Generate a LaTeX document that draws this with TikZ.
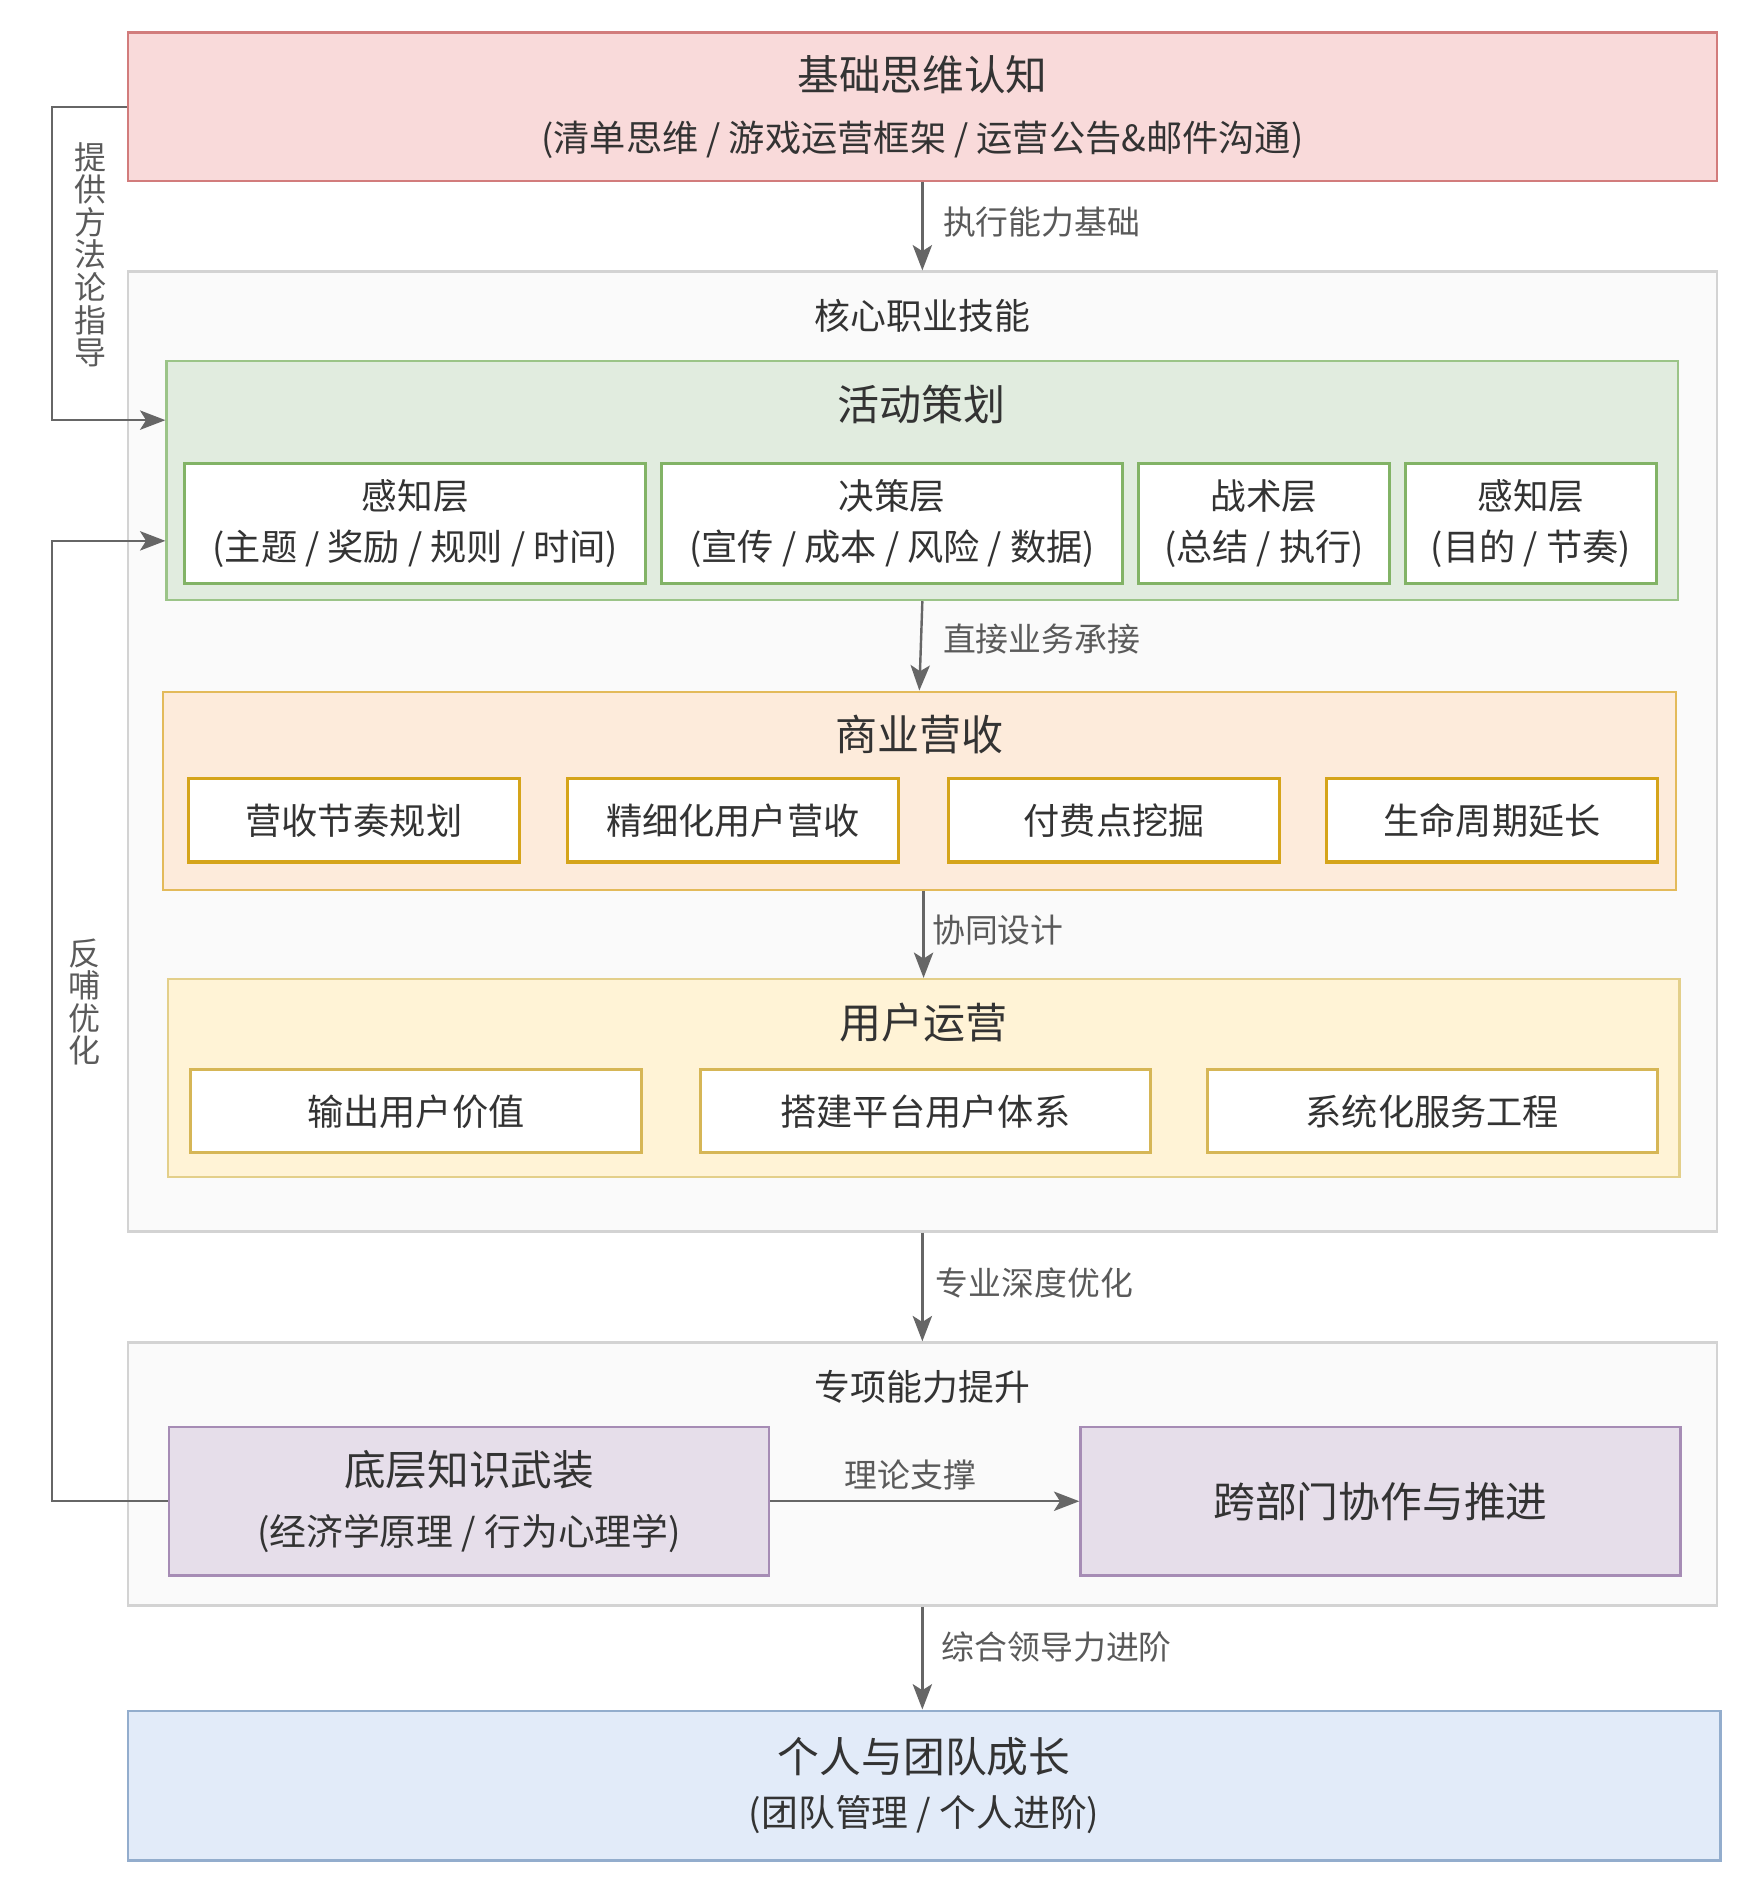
\documentclass[tikz,border=0pt]{standalone}
\usepackage{fontspec}
\setmainfont{Noto Sans CJK SC}
\usetikzlibrary{arrows.meta,calc}
\definecolor{txt}{HTML}{333333}
\definecolor{lbltxt}{HTML}{5A5A5A}
\definecolor{arr}{HTML}{666666}
\definecolor{pinkfill}{HTML}{F9DADA}
\definecolor{pinkdraw}{HTML}{D27C7C}
\definecolor{corefill}{HTML}{FAFAFA}
\definecolor{coredraw}{HTML}{D3D3D3}
\definecolor{greenfill}{HTML}{E1ECDF}
\definecolor{greendraw}{HTML}{9BC488}
\definecolor{subgreen}{HTML}{82B366}
\definecolor{orangefill}{HTML}{FDEBDB}
\definecolor{orangedraw}{HTML}{E3BA5A}
\definecolor{suborange}{HTML}{D5A41A}
\definecolor{yellowfill}{HTML}{FFF3D6}
\definecolor{yellowdraw}{HTML}{E3CF8A}
\definecolor{subyellow}{HTML}{D6B656}
\definecolor{purplefill}{HTML}{E6DEEA}
\definecolor{purpledraw}{HTML}{A68CB5}
\definecolor{bluefill}{HTML}{E2EBF9}
\definecolor{bluedraw}{HTML}{93ADCD}
\newcommand{\fsz}[2]{\fontsize{#1}{#2}\selectfont}
\tikzset{
  box/.style={draw, line width=2pt, inner sep=0pt, align=center, text=txt},
  pinkbox/.style={box, fill=pinkfill, draw=pinkdraw},
  corebox/.style={box, fill=corefill, draw=coredraw},
  greenbox/.style={box, fill=greenfill, draw=greendraw},
  orangebox/.style={box, fill=orangefill, draw=orangedraw},
  yellowbox/.style={box, fill=yellowfill, draw=yellowdraw},
  purplebox/.style={box, fill=purplefill, draw=purpledraw},
  bluebox/.style={box, fill=bluefill, draw=bluedraw},
  subg/.style={box, fill=white, draw=subgreen, line width=2.5pt, minimum width=#1, minimum height=99pt, font=\fsz{30}{42}},
  subo/.style={box, fill=white, draw=suborange, line width=2.5pt, minimum width=274pt, minimum height=69pt, font=\fsz{30}{34}},
  suby/.style={box, fill=white, draw=subyellow, line width=2.5pt, minimum width=373pt, minimum height=69pt, font=\fsz{30}{34}},
  title/.style={text=txt, inner sep=0pt, font=\fsz{34.8}{40}},
  subtitle/.style={text=txt, inner sep=0pt, font=\fsz{29.7}{34}},
  lbl/.style={text=lbltxt, inner sep=0pt, font=\fsz{27.2}{30}},
  vlbl/.style={text=lbltxt, inner sep=0pt, align=center, font=\fsz{26.5}{27}},
  conn/.style={draw=arr, line width=2pt, -{Stealth[length=21pt,width=16pt,inset=5pt]}}
}
\begin{document}
\begin{tikzpicture}[x=1pt,y=-1pt]
\useasboundingbox[fill=white] (0,0) rectangle (1451,1568);

% top box
\node[pinkbox, minimum width=1316pt, minimum height=123pt, font=\fsz{30}{51}] (top) at (764,88.5)
  {{\fsz{34.5}{51}基础思维认知}\\(清单思维 / 游戏运营框架 / 运营公告\&邮件沟通)};

% core container
\node[corebox, minimum width=1316pt, minimum height=795pt] (core) at (764,622.5) {};
\node[subtitle] (coret) at (764,262) {核心职业技能};

% activity planning
\node[greenbox, minimum width=1252pt, minimum height=198pt] (green) at (764,398) {};
\node[title] (greent) at (763,335) {活动策划};
\node[subg=382pt] (g1) at (344,433.5) {{\fsz{29.5}{42}感知层}\\(主题 / 奖励 / 规则 / 时间)};
\node[subg=382pt] (g2) at (739,433.5) {{\fsz{29.5}{42}决策层}\\(宣传 / 成本 / 风险 / 数据)};
\node[subg=208pt] (g3) at (1047,433.5) {{\fsz{29.5}{42}战术层}\\(总结 / 执行)};
\node[subg=208pt] (g4) at (1268,433.5) {{\fsz{29.5}{42}感知层}\\(目的 / 节奏)};

% commercial revenue
\node[orangebox, minimum width=1253pt, minimum height=164pt] (orange) at (761.5,655) {};
\node[title] (oranget) at (762,608) {商业营收};
\node[subo] (o1) at (293,679.5) {营收节奏规划};
\node[subo] (o2) at (607,679.5) {精细化用户营收};
\node[subo] (o3) at (923,679.5) {付费点挖掘};
\node[subo] (o4) at (1236,679.5) {生命周期延长};

% user operation
\node[yellowbox, minimum width=1252pt, minimum height=164pt] (yellow) at (765,893) {};
\node[title] (yellowt) at (765,847) {用户运营};
\node[suby] (y1) at (344.5,920.5) {输出用户价值};
\node[suby] (y2) at (766.5,920.5) {搭建平台用户体系};
\node[suby] (y3) at (1186.5,920.5) {系统化服务工程};

% special abilities
\node[corebox, minimum width=1316pt, minimum height=218pt] (special) at (764,1221) {};
\node[subtitle] (specialt) at (764,1149) {专项能力提升};
\node[purplebox, minimum width=497pt, minimum height=123pt, font=\fsz{30.5}{50}] (p1) at (388.5,1243.5)
  {{\fsz{34.5}{50}底层知识武装}\\(经济学原理 / 行为心理学)};
\node[purplebox, minimum width=497pt, minimum height=123pt, font=\fsz{34.6}{40}] (p2) at (1143.5,1243.5)
  {跨部门协作与推进};

% growth
\node[bluebox, minimum width=1319pt, minimum height=124pt, font=\fsz{30.5}{44}] (blue) at (765.5,1479)
  {{\fsz{34.6}{44}个人与团队成长}\\(团队管理 / 个人进阶)};

% vertical connectors
\draw[conn] (top.south) -- (core.north);
\node[lbl, anchor=west] (l1) at (781,184) {执行能力基础};
\draw[conn] (green.south) -- (orange.north);
\node[lbl, anchor=west] (l2) at (781,529) {直接业务承接};
\draw[conn] (orange.south -| yellow.north) -- (yellow.north);
\node[lbl, anchor=west] (l3) at (772,770) {协同设计};
\draw[conn] (core.south) -- (special.north);
\node[lbl, anchor=west] (l4) at (775,1063) {专业深度优化};
\draw[conn] (special.south) -- (special.south |- blue.north);
\node[lbl, anchor=west] (l5) at (780,1364) {综合领导力进阶};

% horizontal connector
\draw[conn] (p1.east) -- (p2.west);
\node[lbl] (l6) at (754,1222) {理论支撑};

% feedback loops
\coordinate (lx) at (43,0);
\coordinate (gin1) at ($(green.north west)+(0,50)$);
\coordinate (gin2) at ($(green.north west)+(0,150)$);
\draw[conn] (top.west) -| (lx |- gin1) -- (gin1);
\draw[conn] (p1.west) -| (lx |- gin2) -- (gin2);
\node[vlbl] (v1) at (75,211) {提\\供\\方\\法\\论\\指\\导};
\node[vlbl] (v2) at (70,830) {反\\哺\\优\\化};
\end{tikzpicture}
\end{document}
